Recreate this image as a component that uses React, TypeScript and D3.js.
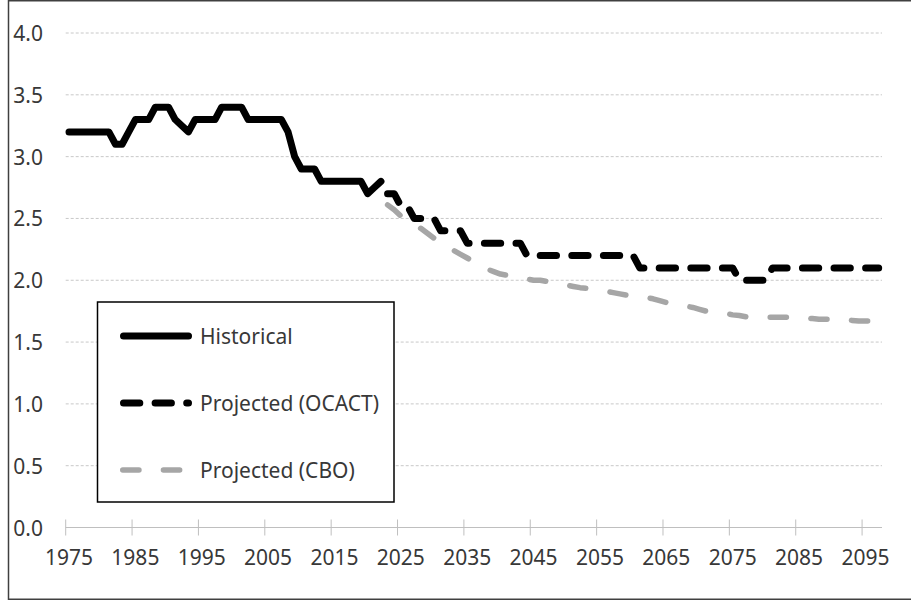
import React, { useEffect, useRef } from "react";
import * as d3 from "d3";

// workers per beneficiary
const histStart = 1975;
const histValues = [
  3.2, 3.2, 3.2, 3.2, 3.2, 3.2, 3.2, 3.1, 3.1, 3.2,
  3.3, 3.3, 3.3, 3.4, 3.4, 3.4, 3.3, 3.25, 3.2, 3.3,
  3.3, 3.3, 3.3, 3.4, 3.4, 3.4, 3.4, 3.3, 3.3, 3.3,
  3.3, 3.3, 3.3, 3.2, 3.0, 2.9, 2.9, 2.9, 2.8, 2.8,
  2.8, 2.8, 2.8, 2.8, 2.8, 2.7, 2.75, 2.8,
];

const projStart = 2023;
const ocactValues = [
  2.7, 2.7, 2.6, 2.6, 2.5, 2.5, 2.5, 2.5, 2.4, 2.4,
  2.4, 2.4, 2.3, 2.3, 2.3, 2.3, 2.3, 2.3, 2.3, 2.3,
  2.3, 2.2, 2.2, 2.2, 2.2, 2.2, 2.2, 2.2, 2.2, 2.2,
  2.2, 2.2, 2.2, 2.2, 2.2, 2.2, 2.2, 2.2, 2.1, 2.1,
  2.1, 2.1, 2.1, 2.1, 2.1, 2.1, 2.1, 2.1, 2.1, 2.1,
  2.1, 2.1, 2.1, 2.0, 2.0, 2.0, 2.0, 2.0, 2.1, 2.1,
  2.1, 2.1, 2.1, 2.1, 2.1, 2.1, 2.1, 2.1, 2.1, 2.1,
  2.1, 2.1, 2.1, 2.1, 2.1,
];
const cboValues = [
  2.61, 2.57, 2.52, 2.49, 2.45, 2.42, 2.38, 2.34, 2.31, 2.28,
  2.24, 2.21, 2.18, 2.15, 2.12, 2.09, 2.07, 2.05, 2.04, 2.03,
  2.02, 2.01, 2.0, 2.0, 1.99, 1.98, 1.97, 1.96, 1.95, 1.94,
  1.935, 1.93, 1.92, 1.91, 1.9, 1.89, 1.88, 1.87, 1.865, 1.86,
  1.85, 1.835, 1.82, 1.81, 1.8, 1.79, 1.78, 1.765, 1.75, 1.74,
  1.735, 1.73, 1.72, 1.715, 1.705, 1.7, 1.695, 1.7, 1.7, 1.7,
  1.7, 1.7, 1.7, 1.695, 1.69, 1.685, 1.685, 1.685, 1.685, 1.68,
  1.675, 1.67, 1.67, 1.67, 1.67,
];

const yTicks = [0, 0.5, 1, 1.5, 2, 2.5, 3, 3.5, 4];
const xLabelYears = [1975, 1985, 1995, 2005, 2015, 2025, 2035, 2045, 2055, 2065, 2075, 2085, 2095];
const legendLabels = ["Historical", "Projected (OCACT)", "Projected (CBO)"];

const FONT = "'Noto Sans', 'Open Sans', sans-serif";

export default function App() {
  const svgRef = useRef<SVGSVGElement>(null);

  useEffect(() => {
    if (!svgRef.current) return;
    document.body.style.margin = "0";

    const svg = d3.select(svgRef.current);
    svg.selectAll("*").remove();

    const x = d3.scaleLinear().domain([1974.5, 2097.5]).range([65.7, 882]);
    const y = d3.scaleLinear().domain([0, 4]).range([527.5, 33]);

    // outer frame
    svg.append("rect")
      .attr("x", 8.5).attr("y", 0.75)
      .attr("width", 910).attr("height", 598.5)
      .attr("fill", "white")
      .attr("stroke", "#404040")
      .attr("stroke-width", 1.5);

    // gridlines
    svg.append("g")
      .selectAll("line")
      .data(yTicks.filter((v) => v > 0))
      .join("line")
      .attr("x1", x(1974.5)).attr("x2", x(2097.5))
      .attr("y1", (d) => y(d)).attr("y2", (d) => y(d))
      .attr("stroke", "#c8c8c8")
      .attr("stroke-dasharray", "3 2");

    // x axis line + tick marks
    svg.append("line")
      .attr("x1", x(1974.5)).attr("x2", x(2097.5))
      .attr("y1", y(0)).attr("y2", y(0))
      .attr("stroke", "#bfbfbf");
    svg.append("g")
      .selectAll("line")
      .data(xLabelYears)
      .join("line")
      .attr("x1", (d) => x(d - 0.5)).attr("x2", (d) => x(d - 0.5))
      .attr("y1", y(0) - 8).attr("y2", y(0) + 8)
      .attr("stroke", "#bfbfbf");

    // y labels
    svg.append("g")
      .selectAll("text")
      .data(yTicks)
      .join("text")
      .attr("x", 43)
      .attr("y", (d) => y(d))
      .attr("text-anchor", "end")
      .attr("dominant-baseline", "central")
      .attr("font-family", FONT)
      .attr("font-size", 21)
      .attr("fill", "#383838")
      .text((d) => d3.format(".1f")(d));

    // x labels
    svg.append("g")
      .selectAll("text")
      .data(xLabelYears)
      .join("text")
      .attr("x", (d) => x(d))
      .attr("y", 557)
      .attr("text-anchor", "middle")
      .attr("dominant-baseline", "central")
      .attr("font-family", FONT)
      .attr("font-size", 21)
      .attr("fill", "#383838")
      .text((d) => d);

    const styles = [
      { color: "#000", width: 7, dash: null as string | null },
      { color: "#000", width: 7, dash: "16.3 15.3" },
      { color: "#a6a6a6", width: 5.5, dash: "16.2 24.5" },
    ];

    const drawLine = (start: number, values: number[], s: typeof styles[0]) => {
      const line = d3.line<number>()
        .x((_, i) => x(start + i))
        .y((d) => y(d));
      const p = svg.append("path")
        .datum(values)
        .attr("fill", "none")
        .attr("stroke", s.color)
        .attr("stroke-width", s.width)
        .attr("stroke-linecap", "round")
        .attr("stroke-linejoin", "round")
        .attr("d", line);
      if (s.dash) p.attr("stroke-dasharray", s.dash);
    };

    drawLine(projStart, cboValues, styles[2]);
    drawLine(projStart, ocactValues, styles[1]);
    drawLine(histStart, histValues, styles[0]);

    // legend
    const lg = svg.append("g");
    lg.append("rect")
      .attr("x", 97.5).attr("y", 302)
      .attr("width", 296.5).attr("height", 200)
      .attr("fill", "white")
      .attr("stroke", "#000")
      .attr("stroke-width", 1.5);
    const rowY = [336, 403, 470];
    legendLabels.forEach((label, i) => {
      const s = styles[i];
      const l = lg.append("line")
        .attr("x1", 120 + s.width / 2).attr("x2", 192 - s.width / 2)
        .attr("y1", rowY[i]).attr("y2", rowY[i])
        .attr("stroke", s.color)
        .attr("stroke-width", s.width)
        .attr("stroke-linecap", "round");
      if (s.dash) l.attr("stroke-dasharray", s.dash);
      lg.append("text")
        .attr("x", 200)
        .attr("y", rowY[i])
        .attr("dominant-baseline", "central")
        .attr("font-family", FONT)
        .attr("font-size", 21)
        .attr("fill", "#383838")
        .text(label);
    });
  }, []);

  return <svg ref={svgRef} width={911} height={601} style={{ display: "block" }} />;
}
